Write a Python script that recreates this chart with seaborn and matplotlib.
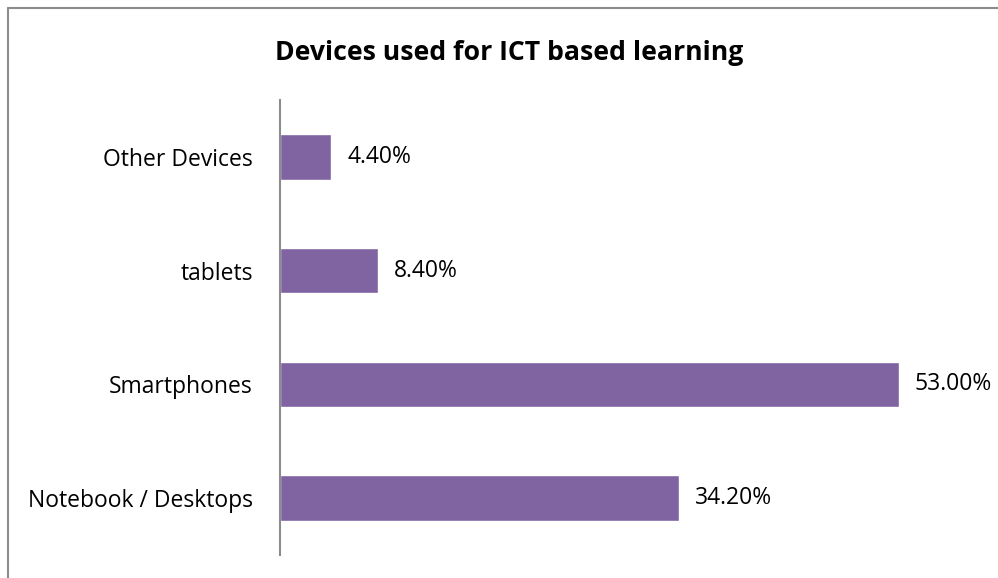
import matplotlib
matplotlib.use("Agg")
import matplotlib.pyplot as plt
from matplotlib.lines import Line2D
import seaborn as sns
import pandas as pd

categories = ["Other Devices", "tablets", "Smartphones", "Notebook / Desktops"]
values = [4.40, 8.40, 53.00, 34.20]
title = "Devices used for ICT based learning"

sns.set_theme(style="white")
plt.rcParams['font.family'] = ['Open Sans', 'DejaVu Sans']

W, H = 998, 578
fig = plt.figure(figsize=(W / 100, H / 100), dpi=100)
fig.patch.set_facecolor("white")

px_per_unit = 619 / 53.0
xmax = 60
ax_w = xmax * px_per_unit
ax = fig.add_axes([280 / W, (H - 555) / H, ax_w / W, 455 / H])

df = pd.DataFrame({"device": categories, "pct": values})
sns.barplot(data=df, y="device", x="pct", order=categories, orient="h",
            color="#8064A2", saturation=1, width=0.4, ax=ax)

ax.set_xlim(0, xmax)
ax.set_ylim(3.5, -0.5)
ax.set_xlabel("")
ax.set_ylabel("")
ax.set_xticks([])
for s in ["top", "right", "bottom"]:
    ax.spines[s].set_visible(False)
ax.spines["left"].set_color("#8c8c8c")
ax.spines["left"].set_linewidth(1.5)
ax.tick_params(axis="y", length=0, pad=19.5, labelsize=16.5, labelcolor="black")

for c in ax.containers:
    ax.bar_label(c, labels=[f"{v:.2f}%" for v in values], padding=11.5,
                 fontsize=16.5, color="black")

fig.text(509 / W, 1 - 53 / H, title, ha="center", va="center",
         fontsize=19.2, fontweight="bold", color="black")

fig.add_artist(Line2D([8 / W, 8 / W], [0, 1 - 8 / H], transform=fig.transFigure,
                      color="#8c8c8c", lw=1.5))
fig.add_artist(Line2D([8 / W, 1], [1 - 8 / H, 1 - 8 / H], transform=fig.transFigure,
                      color="#8c8c8c", lw=1.5))

fig.savefig("out.png", dpi=100, facecolor="white")
